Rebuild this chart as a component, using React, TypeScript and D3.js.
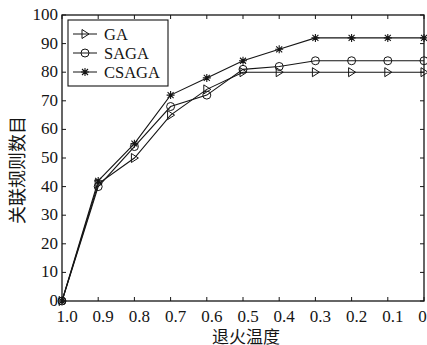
import React, { useEffect, useRef } from "react";
import * as d3 from "d3";

const temps = [1.0, 0.9, 0.8, 0.7, 0.6, 0.5, 0.4, 0.3, 0.2, 0.1, 0];
const tempLabels = ["1.0", "0.9", "0.8", "0.7", "0.6", "0.5", "0.4", "0.3", "0.2", "0.1", "0"];
const gaValues = [0, 41, 50, 65, 74, 80, 80, 80, 80, 80, 80];
const sagaValues = [0, 40, 54, 68, 72, 81, 82, 84, 84, 84, 84];
const csagaValues = [0, 42, 55, 72, 78, 84, 88, 92, 92, 92, 92];
const yTicks = [0, 10, 20, 30, 40, 50, 60, 70, 80, 90, 100];

const seriesNames = ["GA", "SAGA", "CSAGA"];
const seriesValues = [gaValues, sagaValues, csagaValues];

const App: React.FC = () => {
    const svgRef = useRef<SVGSVGElement | null>(null);

    useEffect(() => {
        const width = 427;
        const height = 345;
        const margin = { top: 15, right: 3, bottom: 44, left: 62 };
        const innerW = width - margin.left - margin.right;
        const innerH = height - margin.top - margin.bottom;
        const font = "'Liberation Serif', 'Times New Roman', serif";
        const cjk = "'Noto Sans CJK SC', sans-serif";
        const ink = "#151515";

        d3.select(svgRef.current).selectAll("*").remove();

        const svg = d3
            .select(svgRef.current)
            .attr("width", width)
            .attr("height", height)
            .style("background", "#fff");

        const g = svg.append("g").attr("transform", `translate(${margin.left},${margin.top})`);

        const x = d3.scaleLinear().domain([1, 0]).range([0, innerW]);
        const y = d3.scaleLinear().domain([0, 100]).range([innerH, 0]);

        // box
        g.append("rect")
            .attr("width", innerW)
            .attr("height", innerH)
            .attr("fill", "none")
            .attr("stroke", ink)
            .attr("stroke-width", 1.3);

        // ticks (inward, on all four sides)
        const tl = 4;
        temps.forEach((t) => {
            g.append("line").attr("x1", x(t)).attr("x2", x(t)).attr("y1", innerH).attr("y2", innerH - tl).attr("stroke", ink);
            g.append("line").attr("x1", x(t)).attr("x2", x(t)).attr("y1", 0).attr("y2", tl).attr("stroke", ink);
        });
        yTicks.forEach((v) => {
            g.append("line").attr("x1", 0).attr("x2", tl).attr("y1", y(v)).attr("y2", y(v)).attr("stroke", ink);
            g.append("line").attr("x1", innerW).attr("x2", innerW - tl).attr("y1", y(v)).attr("y2", y(v)).attr("stroke", ink);
        });

        // tick labels
        g.selectAll("text.xt")
            .data(temps)
            .enter()
            .append("text")
            .attr("class", "xt")
            .attr("x", (d) => x(d))
            .attr("dx", (d, i) => (tempLabels[i].length > 1 ? 5 : -1.5))
            .attr("y", innerH + 21)
            .attr("text-anchor", "middle")
            .attr("font-family", font)
            .attr("font-size", 17)
            .attr("fill", ink)
            .text((d, i) => tempLabels[i]);

        g.selectAll("text.yt")
            .data(yTicks)
            .enter()
            .append("text")
            .attr("class", "yt")
            .attr("x", -4)
            .attr("y", (d) => y(d) + 5)
            .attr("text-anchor", "end")
            .attr("font-family", font)
            .attr("font-size", 17)
            .attr("fill", ink)
            .text((d) => d);

        // axis titles
        svg.append("text")
            .attr("x", margin.left + innerW / 2 + 3)
            .attr("y", height - 2)
            .attr("text-anchor", "middle")
            .attr("font-family", cjk)
            .attr("font-size", 17)
            .attr("fill", ink)
            .text("退火温度");

        svg.append("text")
            .attr("transform", `translate(24,170) rotate(-90)`)
            .attr("text-anchor", "middle")
            .attr("font-family", cjk)
            .attr("font-size", 18)
            .attr("fill", ink)
            .text("关联规则数目");

        const line = d3
            .line<number>()
            .x((d, i) => x(temps[i]))
            .y((d) => y(d));

        const drawMarker = (sel: d3.Selection<SVGGElement, unknown, null, undefined>, k: number) => {
            if (k === 0) {
                sel.append("path")
                    .attr("d", "M-3,-4.5 L4,0 L-3,4.5 Z")
                    .attr("fill", "none")
                    .attr("stroke", ink)
                    .attr("stroke-width", 1);
            } else if (k === 1) {
                sel.append("circle").attr("r", 4).attr("fill", "none").attr("stroke", ink).attr("stroke-width", 1);
            } else {
                sel.append("path")
                    .attr("d", "M0,-4 L0,4 M-4,0 L4,0 M-3,-3 L3,3 M-3,3 L3,-3")
                    .attr("stroke", ink)
                    .attr("stroke-width", 1.1);
            }
        };

        seriesValues.forEach((vals, k) => {
            g.append("path")
                .datum(vals)
                .attr("d", line)
                .attr("fill", "none")
                .attr("stroke", ink)
                .attr("stroke-width", 1.1);
            vals.forEach((v, i) => {
                const m = g.append("g").attr("transform", `translate(${x(temps[i])},${y(v)})`);
                drawMarker(m, k);
            });
        });

        // legend
        const lg = svg.append("g").attr("transform", "translate(68,20)");
        lg.append("rect")
            .attr("width", 100)
            .attr("height", 66)
            .attr("fill", "#fff")
            .attr("stroke", ink)
            .attr("stroke-width", 1.1);
        seriesNames.forEach((name, k) => {
            const yy = 14 + k * 19;
            lg.append("line").attr("x1", 5).attr("x2", 29).attr("y1", yy).attr("y2", yy).attr("stroke", ink);
            const m = lg.append("g").attr("transform", `translate(17,${yy})`);
            drawMarker(m, k);
            lg.append("text")
                .attr("x", 36)
                .attr("y", yy + 5.5)
                .attr("font-family", font)
                .attr("font-size", 16.5)
                .attr("fill", ink)
                .text(name);
        });
    }, []);

    return <svg ref={svgRef} style={{ position: "absolute", left: 0, top: 0, display: "block" }} />;
};

export default App;
